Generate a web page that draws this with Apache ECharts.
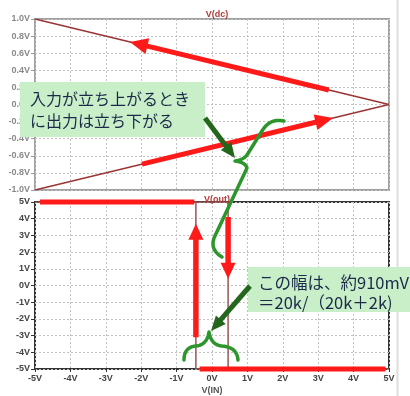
<!DOCTYPE html>
<html><head><meta charset="utf-8">
<script src="https://cdn.jsdelivr.net/npm/echarts@6/dist/echarts.min.js"></script>
<style>html,body{margin:0;padding:0;background:#fff}#c{width:410px;height:396px}</style>
</head><body><div id="c"></div>
<script>
// ---- data ----
const vinSweepX = [-5, 5];
const vdcUpper = [1.0, 0.0];
const vdcLower = [-1.0, 0.0];
const voutX = [-5, 0.455, 0.455, 5, -0.455, -0.455, -5];
const voutY = [5, 5, -5, -5, -5, 5, 5];
const topTicks = [-1.0, -0.8, -0.6, -0.4, -0.2, 0.0, 0.2, 0.4, 0.6, 0.8, 1.0];
const bottomTicks = [-5, -4, -3, -2, -1, 0, 1, 2, 3, 4, 5];
const xTicks = [-5, -4, -3, -2, -1, 0, 1, 2, 3, 4, 5];
const titles = ['V(dc)', 'V(out)'];
const xName = 'V(IN)';
const note1 = ['入力が立ち上がるとき', 'に出力は立ち下がる'];
const note2 = ['この幅は、約910mV', '＝20k/（20k＋2k)'];

const chart = echarts.init(document.getElementById('c'), null, {renderer: 'canvas'});
const grid0 = {left: 35, top: 19, width: 354, height: 171, show: true, borderColor: '#a0a0a0', borderWidth: 2, backgroundColor: '#fff'};
const grid1 = {left: 35, top: 202, width: 354, height: 173, show: true, borderColor: '#333', borderWidth: 2, backgroundColor: '#fff'};
const split = {show: true, lineStyle: {color: '#c2c2c2', type: [2, 2], width: 1}};
const lblFont = {fontFamily: 'Liberation Sans', fontSize: 9, fontWeight: 'bold'};

const option = {
  animation: false,
  backgroundColor: '#fff',
  title: [
    {text: titles[0], left: 212, top: 5, textAlign: 'center', textStyle: {color: '#b03a3a', fontSize: 9, fontWeight: 'bold', fontFamily: 'Liberation Sans'}},
    {text: titles[1], left: 212, top: 190, textAlign: 'center', textStyle: {color: '#b03a3a', fontSize: 9, fontWeight: 'bold', fontFamily: 'Liberation Sans'}}
  ],
  grid: [grid0, grid1],
  xAxis: [
    {type: 'value', gridIndex: 0, min: xTicks[0], max: xTicks[xTicks.length - 1], interval: 1,
      axisLabel: {show: false}, axisTick: {show: false}, axisLine: {show: false, onZero: false}, splitLine: split},
    {type: 'value', gridIndex: 1, min: xTicks[0], max: xTicks[xTicks.length - 1], interval: 1,
      name: xName, nameLocation: 'middle', nameGap: 17, nameTextStyle: Object.assign({color: '#555'}, lblFont),
      axisLabel: Object.assign({color: '#444', margin: 5, formatter: v => v + 'V'}, lblFont),
      axisTick: {show: true, length: 3, lineStyle: {color: '#333'}}, axisLine: {show: false, onZero: false}, splitLine: split}
  ],
  yAxis: [
    {type: 'value', gridIndex: 0, min: topTicks[0], max: topTicks[topTicks.length - 1], interval: 0.2,
      axisLabel: Object.assign({color: '#8a8a8a', margin: 5, formatter: v => v.toFixed(1) + 'V'}, lblFont),
      axisTick: {show: true, length: 4, lineStyle: {color: '#999'}}, axisLine: {show: false, onZero: false}, splitLine: split},
    {type: 'value', gridIndex: 1, min: bottomTicks[0], max: bottomTicks[bottomTicks.length - 1], interval: 1,
      axisLabel: Object.assign({color: '#444', margin: 5, formatter: v => v + 'V'}, lblFont),
      axisTick: {show: true, length: 4, lineStyle: {color: '#333'}}, axisLine: {show: false, onZero: false}, splitLine: split}
  ],
  series: [
    {type: 'line', xAxisIndex: 0, yAxisIndex: 0, symbol: 'none', data: vinSweepX.map((x, i) => [x, vdcUpper[i]]), lineStyle: {color: '#993535', width: 1.5}},
    {type: 'line', xAxisIndex: 0, yAxisIndex: 0, symbol: 'none', data: vinSweepX.map((x, i) => [x, vdcLower[i]]), lineStyle: {color: '#993535', width: 1.5}},
    {type: 'line', xAxisIndex: 1, yAxisIndex: 1, symbol: 'none', data: voutX.map((x, i) => [x, voutY[i]]), lineStyle: {color: '#9a5555', width: 1.5}}
  ]
};
chart.setOption(option);

// ---- annotations ----
function P(g, x, y) { return chart.convertToPixel({gridIndex: g}, [x, y]); }
function arrow(a, b, color, w, hl, hw) {
  const dx = b[0] - a[0], dy = b[1] - a[1], L = Math.hypot(dx, dy);
  const ux = dx / L, uy = dy / L, nx = -uy, ny = ux;
  const bx = b[0] - ux * hl, by = b[1] - uy * hl;
  return [
    {type: 'line', z: 100, shape: {x1: a[0], y1: a[1], x2: bx + ux, y2: by + uy}, style: {stroke: color, lineWidth: w}},
    {type: 'polygon', z: 100, shape: {points: [b, [bx + nx * hw / 2, by + ny * hw / 2], [bx - nx * hw / 2, by - ny * hw / 2]]}, style: {fill: color}}
  ];
}
function seg(a, b, color, w) {
  return {type: 'line', z: 100, shape: {x1: a[0], y1: a[1], x2: b[0], y2: b[1]}, style: {stroke: color, lineWidth: w}};
}
// sample a simple path (M, L, Q, C with absolute coords) into polyline points
function samplePath(d) {
  const tok = d.match(/[MLQC]|-?[\d.]+/g);
  const pts = []; let i = 0, cmd = '', cur = [0, 0];
  const num = () => parseFloat(tok[i++]);
  while (i < tok.length) {
    if (/[MLQC]/.test(tok[i])) cmd = tok[i++];
    if (cmd === 'M' || cmd === 'L') { cur = [num(), num()]; pts.push(cur); }
    else if (cmd === 'Q') {
      const c = [num(), num()], e = [num(), num()];
      for (let t = 1; t <= 12; t++) { const s = t / 12, r = 1 - s;
        pts.push([r * r * cur[0] + 2 * r * s * c[0] + s * s * e[0], r * r * cur[1] + 2 * r * s * c[1] + s * s * e[1]]); }
      cur = e;
    } else if (cmd === 'C') {
      const c1 = [num(), num()], c2 = [num(), num()], e = [num(), num()];
      for (let t = 1; t <= 16; t++) { const s = t / 16, r = 1 - s;
        pts.push([r*r*r*cur[0] + 3*r*r*s*c1[0] + 3*r*s*s*c2[0] + s*s*s*e[0], r*r*r*cur[1] + 3*r*r*s*c1[1] + 3*r*s*s*c2[1] + s*s*s*e[1]]); }
      cur = e;
    }
  }
  return pts;
}
const RED = '#ff1a1a', DG = '#23661c', BR = '#2c962c';
const g = [];
g.push({type: 'line', z: 50, shape: {x1: 397.5, y1: 0, x2: 397.5, y2: 396}, style: {stroke: '#dedede', lineWidth: 2}});
// red arrows along traces
g.push(...arrow(P(0, 3.3, 0.17), P(0, -2.32, 0.732), RED, 5, 18, 16));
g.push(...arrow(P(0, -1.98, -0.698), P(0, 3.42, -0.158), RED, 5, 18, 16));
g.push(seg(P(1, -4.86, 5), P(1, -0.5, 5), RED, 5));
g.push(seg(P(1, -0.35, -5), P(1, 4.9, -5), RED, 5));
g.push(...arrow(P(1, -0.455, -3.1), P(1, -0.455, 3.7), RED, 5.5, 16, 15));
g.push(...arrow(P(1, 0.455, 4.1), P(1, 0.455, 0.4), RED, 5.5, 16, 15));
// braces
g.push({type: 'polyline', z: 101, shape: {points: samplePath('M284,121 C273,119 267,123 262,131 L247,155 Q243,160 235,161 Q245,162 247,168 L214,238 Q210,250 222,257')}, style: {stroke: BR, lineWidth: 3.5, fill: null, lineJoin: 'round', lineCap: 'round'}});
g.push({type: 'polyline', z: 101, shape: {points: samplePath('M184,360 Q184,347 196,346 Q207,345 209,332 Q211,345 222,346 Q237,347 238,360')}, style: {stroke: BR, lineWidth: 3.5, fill: null, lineJoin: 'round', lineCap: 'round'}});
// callout boxes
g.push({type: 'rect', z: 99, shape: {x: 20, y: 82, width: 185, height: 55}, style: {fill: '#c9efc9'}});
g.push({type: 'text', z: 102, style: {x: 30, y: 99, text: note1[0], fill: '#1c2a4a', font: '16px "Noto Sans CJK JP"', verticalAlign: 'middle'}});
g.push({type: 'text', z: 102, style: {x: 30, y: 121, text: note1[1], fill: '#1c2a4a', font: '16px "Noto Sans CJK JP"', verticalAlign: 'middle'}});
g.push({type: 'rect', z: 99, shape: {x: 248, y: 267, width: 162, height: 45}, style: {fill: '#c9efc9'}});
g.push({type: 'text', z: 102, style: {x: 258, y: 283, text: note2[0], fill: '#1c2a4a', font: '16.5px "Noto Sans CJK JP"', verticalAlign: 'middle'}});
g.push({type: 'text', z: 102, style: {x: 258, y: 303, text: note2[1], fill: '#1c2a4a', font: '16.5px "Noto Sans CJK JP"', verticalAlign: 'middle'}});
// dark green arrows
g.push(...arrow([205, 118], [235, 158], DG, 5, 15, 13));
g.push(...arrow([250, 286], [211, 331], DG, 5, 15, 13));
chart.setOption({graphic: g});
</script></body></html>
